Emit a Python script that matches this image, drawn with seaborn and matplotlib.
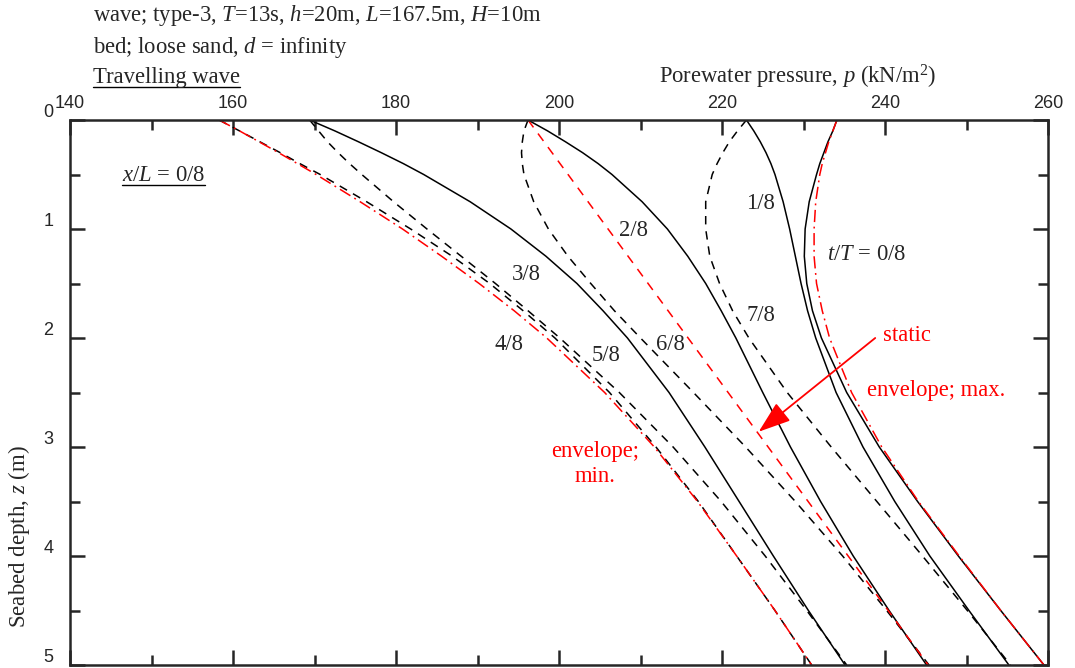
import matplotlib
matplotlib.use("Agg")
import matplotlib.pyplot as plt
import seaborn as sns
from matplotlib.lines import Line2D
from matplotlib.ticker import MultipleLocator
from matplotlib.transforms import IdentityTransform, ScaledTranslation

depth = [0, 0.1, 0.2, 0.3, 0.4, 0.5, 0.75, 1.0, 1.25, 1.5, 1.75, 2.0, 2.5, 3.0, 3.5, 4.0, 4.5, 5.0]

# porewater pressure p (kN/m2) for each phase t/T
p_t0 = [234.1, 233.6, 233.0, 232.5, 232.0, 231.6, 230.7, 230.2, 230.1, 230.4, 231.1, 232.2, 235.3, 239.3, 244.0, 249.0, 254.2, 259.5]
p_t1 = [223.0, 223.9, 224.7, 225.4, 226.0, 226.5, 227.5, 228.3, 229.0, 229.7, 230.5, 231.5, 234.0, 237.3, 241.2, 245.5, 250.3, 255.2]
p_t2 = [196.2, 198.6, 200.8, 202.9, 204.8, 206.5, 210.2, 213.3, 215.8, 218.0, 219.9, 221.7, 225.0, 228.4, 232.1, 236.1, 240.5, 245.1]
p_t3 = [169.4, 172.5, 175.4, 178.2, 180.9, 183.4, 189.1, 194.1, 198.4, 202.2, 205.4, 208.4, 213.5, 217.9, 222.1, 226.3, 230.6, 235.1]
p_t4 = [158.3, 160.8, 163.3, 165.8, 168.2, 170.7, 176.4, 181.8, 186.9, 191.5, 195.6, 199.5, 206.2, 211.9, 217.1, 221.8, 226.5, 231.0]
p_t5 = [169.4, 170.5, 171.6, 172.9, 174.3, 175.8, 179.7, 183.8, 188.0, 192.2, 196.2, 200.1, 207.4, 214.0, 219.9, 225.3, 230.4, 235.3]
p_t6 = [196.2, 195.7, 195.5, 195.4, 195.5, 195.7, 196.9, 198.7, 201.1, 203.9, 206.8, 210.0, 216.5, 222.9, 229.0, 234.8, 240.2, 245.4]
p_t7 = [223.0, 221.9, 220.9, 220.1, 219.4, 218.8, 218.0, 218.0, 218.5, 219.7, 221.3, 223.3, 228.0, 233.4, 239.0, 244.6, 250.1, 255.4]

# envelopes and static pressure
env_max = [234.1, 233.6, 233.1, 232.7, 232.3, 232.0, 231.5, 231.3, 231.3, 231.6, 232.3, 233.2, 235.9, 239.6, 244.1, 249.1, 254.2, 259.5]
env_min = [158.3, 160.8, 163.2, 165.6, 167.9, 170.2, 175.6, 180.8, 185.6, 190.2, 194.5, 198.5, 205.6, 211.7, 217.0, 221.8, 226.5, 231.0]
static_depth = [0, 5.0]
static_p = [196.2, 245.3]

# phase labels: (text, p, z)
phase_labels = [("1/8", 224.7, 0.77), ("2/8", 209.2, 1.01), ("3/8", 196.0, 1.42),
                ("4/8", 193.9, 2.06), ("5/8", 205.8, 2.16), ("6/8", 213.7, 2.06),
                ("7/8", 224.8, 1.79)]

sns.set_style("ticks")
plt.rcParams["font.family"] = ["Liberation Serif", "DejaVu Serif"]
plt.rcParams["mathtext.fontset"] = "custom"
plt.rcParams["mathtext.rm"] = "Liberation Serif"
plt.rcParams["mathtext.it"] = "Liberation Serif:italic"

W, H = 1075, 668
fig = plt.figure(figsize=(W / 100, H / 100), dpi=100)
ax = fig.add_axes([70 / W, 3 / H, 978 / W, 545 / H])

dash = (0, (5.5, 4.5))
solid_lw = 1.1
for vals in [p_t0, p_t1, p_t2, p_t3]:
    sns.lineplot(x=vals, y=depth, sort=False, estimator=None, color="black",
                 lw=solid_lw, ax=ax)
for vals in [p_t4, p_t5, p_t6, p_t7]:
    sns.lineplot(x=vals, y=depth, sort=False, estimator=None, color="black",
                 lw=solid_lw, linestyle=dash, ax=ax)

sns.lineplot(x=static_p, y=static_depth, sort=False, estimator=None, color="red",
             lw=1.1, linestyle=(0, (6, 5)), ax=ax)
for vals in [env_max, env_min]:
    sns.lineplot(x=vals, y=depth, sort=False, estimator=None, color="red",
                 lw=1.1, linestyle=(0, (8, 3, 1.2, 3)), ax=ax)

ax.set_xlim(140, 260)
ax.set_ylim(5, 0)
ax.set_xticks(range(140, 261, 20))
ax.set_yticks(range(0, 6))
ax.xaxis.set_minor_locator(MultipleLocator(10))
ax.yaxis.set_minor_locator(MultipleLocator(0.5))
ax.tick_params(which="both", direction="in", top=True, bottom=True, left=True,
               right=True, labeltop=True, labelbottom=False, width=1.8,
               labelsize=13, labelfontfamily="Liberation Sans")
ax.tick_params(which="major", length=11)
ax.tick_params(which="minor", length=7)
ax.tick_params(axis="x", pad=6)
ax.tick_params(axis="y", pad=12)
for s in ax.spines.values():
    s.set_linewidth(1.8)
for lbl in ax.get_yticklabels():
    lbl.set_transform(lbl.get_transform() + ScaledTranslation(0, 7 / 72, fig.dpi_scale_trans))

fs = 16.3
ax.set_xlabel("")
ax.set_ylabel("Seabed depth, $z$ (m)", fontsize=16.5)
ax.yaxis.set_label_coords(-0.039, 0.235)

fig.text(798 / W, 1 - 77 / H, "Porewater pressure, $p$ (kN/m$^{2}$)", fontsize=fs,
         ha="center", va="center")
fig.text(93 / W, 1 - 16 / H, "wave; type-3, $T$=13s, $h$=20m, $L$=167.5m, $H$=10m",
         fontsize=fs, va="center")
fig.text(93 / W, 1 - 47 / H, "bed; loose sand, $d$ = infinity", fontsize=fs, va="center")
t_head = fig.text(93 / W, 1 - 77 / H, "Travelling wave", fontsize=fs, va="center")
t_xl = ax.text(151.5, 0.51, "$x$/$L$ = 0/8", fontsize=fs, ha="center", va="center")

for txt, px, pz in phase_labels:
    ax.text(px, pz, txt, fontsize=fs, ha="center", va="center")
ax.text(237.7, 1.23, "$t$/$T$ = 0/8", fontsize=fs, ha="center", va="center")

ax.text(239.75, 1.98, "static", fontsize=fs, color="red", va="center")
ax.text(237.8, 2.48, "envelope; max.", fontsize=fs, color="red", va="center")
ax.text(204.4, 3.16, "envelope;\nmin.", fontsize=fs, color="red", ha="center",
        va="center", linespacing=1.25)
ax.annotate("", xy=(224.5, 2.86), xytext=(238.8, 2.0),
            arrowprops=dict(arrowstyle="-|>,head_length=1.0,head_width=0.35",
                            color="red", lw=1.3, mutation_scale=20,
                            shrinkA=0, shrinkB=0))

# underline two of the texts
fig.canvas.draw()
renderer = fig.canvas.get_renderer()
for t in [t_head, t_xl]:
    bb = t.get_window_extent(renderer)
    fig.add_artist(Line2D([bb.x0, bb.x1], [bb.y0 + 1, bb.y0 + 1], color="black",
                          lw=1.0, transform=IdentityTransform()))

fig.savefig("out.png", dpi=100)
